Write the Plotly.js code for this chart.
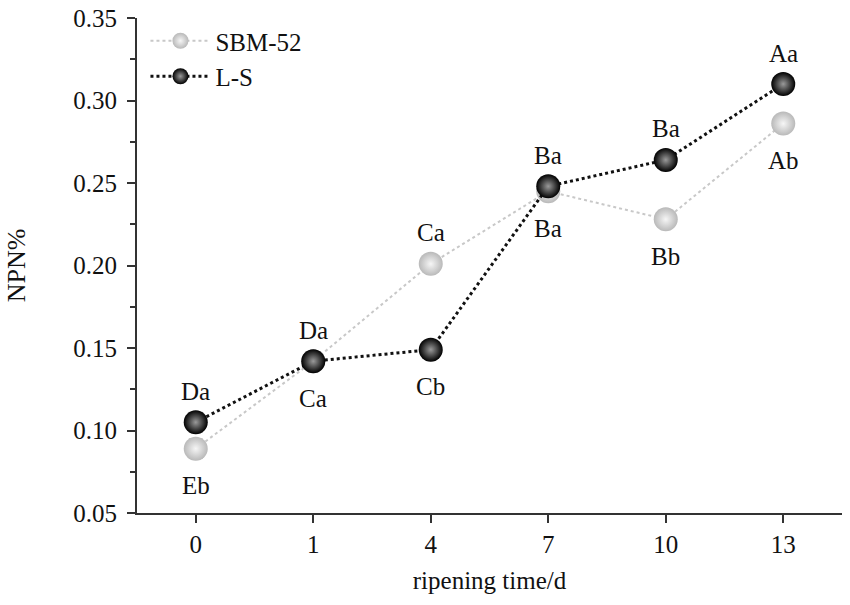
<!DOCTYPE html>
<html>
<head>
<meta charset="utf-8">
<script src="https://cdn.plot.ly/plotly-3.0.1.min.js"></script>
<style>
  html, body { margin: 0; padding: 0; background: #fff; }
  #chart { width: 850px; height: 605px; }
</style>
</head>
<body>
<div id="chart"></div>
<script>
// ripening days (categorical axis)
let days = ["0", "1", "4", "7", "10", "13"];

// NPN%
let sbmValues = [0.089, 0.142, 0.201, 0.245, 0.228, 0.286];
let sbmErrors = [0.006, 0.004, 0.003, 0.005, 0.004, 0.003];
let sbmLetters = ["Eb", "Ca", "Ca", "Ba", "Bb", "Ab"];
let sbmAbove = [false, false, true, false, false, false];

let lsValues = [0.105, 0.142, 0.149, 0.248, 0.264, 0.310];
let lsErrors = [0.006, 0.005, 0.002, 0.004, 0.005, 0.002];
let lsLetters = ["Da", "Da", "Cb", "Ba", "Ba", "Aa"];
let lsAbove = [true, true, false, true, true, true];

let serif = "Liberation Serif, Times New Roman, serif";
let ink = "#111";

let sbm = {
    x: days,
    y: sbmValues,
    name: "SBM-52",
    type: "scatter",
    mode: "lines+markers",
    line: { color: "#c8c8c8", width: 2, dash: "dot" },
    marker: {
        size: 24,
        color: "#b9b9b9",
        gradient: { type: "radial", color: "#f6f6f6" },
        line: { width: 0 }
    },
    error_y: { type: "data", array: sbmErrors, color: "#bbbbbb", thickness: 1, width: 7 }
};

let ls = {
    x: days,
    y: lsValues,
    name: "L-S",
    type: "scatter",
    mode: "lines+markers",
    line: { color: ink, width: 3, dash: "dot" },
    marker: {
        size: 24,
        color: "#000",
        gradient: { type: "radial", color: "#9a9a9a" },
        line: { width: 0 }
    },
    error_y: { type: "data", array: lsErrors, color: "#888", thickness: 1, width: 7 }
};

// significance letters as annotations above / below each point
// (x given as category index so Plotly does not read "4" as a position)
let annotations = [];
function addLetters(values, letters, above) {
    for (let i = 0; i < days.length; i++) {
        annotations.push({
            x: i,
            y: values[i],
            xref: "x",
            yref: "y",
            text: letters[i],
            showarrow: false,
            yshift: above[i] ? 31 : -37,
            font: { family: serif, size: 25, color: ink }
        });
    }
}
addLetters(sbmValues, sbmLetters, sbmAbove);
addLetters(lsValues, lsLetters, lsAbove);

let layout = {
    width: 850,
    height: 605,
    margin: { l: 137, r: 8, t: 18, b: 92 },
    paper_bgcolor: "#fff",
    plot_bgcolor: "#fff",
    font: { family: serif, size: 25, color: ink },
    showlegend: true,
    annotations: annotations,
    legend: {
        x: 0.012, y: 1.0, xanchor: "left", yanchor: "top",
        bgcolor: "rgba(0,0,0,0)",
        font: { family: serif, size: 25, color: ink },
        itemwidth: 60,
        tracegroupgap: 0
    },
    xaxis: {
        type: "category",
        range: [-0.5, 5.5],
        showline: true,
        linecolor: "#333",
        linewidth: 2,
        showgrid: false,
        zeroline: false,
        ticks: "outside",
        ticklen: 8,
        tickwidth: 2,
        tickcolor: "#333",
        tickfont: { family: serif, size: 25, color: ink },
        title: { text: "ripening time/d", font: { family: serif, size: 25, color: ink }, standoff: 14 }
    },
    yaxis: {
        range: [0.05, 0.35],
        tickvals: [0.05, 0.10, 0.15, 0.20, 0.25, 0.30, 0.35],
        tickformat: ".2f",
        showline: true,
        linecolor: "#333",
        linewidth: 2,
        showgrid: false,
        zeroline: false,
        ticks: "outside",
        ticklen: 8,
        tickwidth: 2,
        tickcolor: "#333",
        ticklabelstandoff: 5,
        minor: { dtick: 0.025, tick0: 0.05, ticks: "outside", ticklen: 5, tickwidth: 2, tickcolor: "#333", showgrid: false },
        tickfont: { family: serif, size: 25, color: ink },
        title: { text: "NPN%", font: { family: serif, size: 26, color: ink }, standoff: 40 }
    }
};

Plotly.newPlot("chart", [sbm, ls], layout, { displayModeBar: false, staticPlot: true });
</script>
</body>
</html>
